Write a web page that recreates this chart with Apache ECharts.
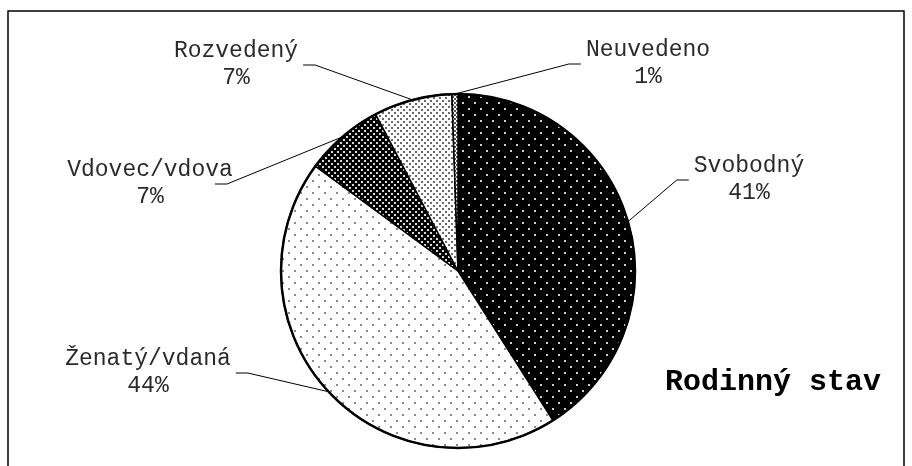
<!DOCTYPE html>
<html>
<head>
<meta charset="utf-8">
<script src="https://cdn.jsdelivr.net/npm/echarts@6/dist/echarts.min.js"></script>
<style>
html,body{margin:0;padding:0;background:#fff;}
#c{width:912px;height:466px;}
</style>
</head>
<body>
<div id="c"></div>
<script>
// ---- data ----
var categories = ['Svobodný', 'Ženatý/vdaná', 'Vdovec/vdova', 'Rozvedený', 'Neuvedeno'];
var shares = [41.0, 44.1, 7.2, 7.15, 0.55];
var chartTitle = 'Rodinný stav';

// ---- patterns ----
function dotPattern(size, bg, fg, dot, pts) {
  var c = document.createElement('canvas');
  c.width = size; c.height = size;
  var g = c.getContext('2d');
  g.fillStyle = bg; g.fillRect(0, 0, size, size);
  g.fillStyle = fg;
  pts.forEach(function (p) { g.fillRect(p[0], p[1], dot, dot); });
  return { image: c, repeat: 'repeat' };
}
var patterns = [
  dotPattern(12, '#000', '#d0d0d0', 2, [[0, 0], [6, 6]]),
  dotPattern(12, '#fff', '#8a8a8a', 2, [[0, 0], [6, 6]]),
  dotPattern(6, '#000', '#d8d8d8', 2, [[1, 1], [4, 4]]),
  dotPattern(6, '#fff', '#6a6a6a', 2, [[1, 1], [4, 4]]),
  dotPattern(4, '#fff', '#555', 2, [[0, 0], [2, 2]])
];

// label placement (layout only); lineEnd = where the leader line meets the label
var labelPlaces = [
  { x: 749, y: 179, side: 'left' },
  { x: 148, y: 372, side: 'right' },
  { x: 150, y: 183, side: 'right', lineEnd: 215 },
  { x: 236, y: 64, side: 'right' },
  { x: 648, y: 63, side: 'left' }
];

var font = "'Courier New', 'Liberation Mono', monospace";
var chart = echarts.init(document.getElementById('c'), null, { renderer: 'canvas' });

var data = categories.map(function (n, i) {
  return { name: n, value: shares[i], itemStyle: { color: patterns[i] } };
});

chart.setOption({
  backgroundColor: '#fff',
  animation: false,
  graphic: [
    { type: 'rect', shape: { x: 8, y: 11, width: 896, height: 470 },
      style: { fill: 'none', stroke: '#000', lineWidth: 1.5 }, z: 0 },
    { type: 'text', x: 773, y: 382,
      style: { text: chartTitle, font: "bold 30px " + font, fill: '#000',
               textAlign: 'center', textVerticalAlign: 'middle' }, z: 10 }
  ],
  series: [
    {
      type: 'pie',
      center: [458, 271],
      radius: 177,
      startAngle: 90,
      clockwise: true,
      avoidLabelOverlap: false,
      data: data,
      itemStyle: { borderColor: '#000', borderWidth: 1.5 },
      label: {
        show: true, position: 'outside',
        fontFamily: font, fontSize: 23, lineHeight: 27, color: '#2a2a2a',
        formatter: function (p) { return p.name + '\n' + Math.round(p.percent) + '%'; }
      },
      labelLine: { show: true, length: 10, length2: 10, smooth: false,
                   lineStyle: { color: '#000', width: 1 } },
      labelLayout: function (params) {
        var pl = labelPlaces[params.dataIndex];
        var w = params.labelRect.width;
        var p0 = params.labelLinePoints ? params.labelLinePoints[0] : [0, 0];
        var ly = pl.y + 1;
        var ex, bx;
        if (pl.side === 'left') { ex = pl.x - w / 2 - 5; bx = ex - 12; }
        else { ex = pl.lineEnd != null ? pl.lineEnd : pl.x + w / 2 + 5; bx = ex + 12; }
        return {
          x: pl.x, y: pl.y, align: 'center', verticalAlign: 'middle',
          labelLinePoints: [p0, [bx, ly], [ex, ly]]
        };
      },
      emphasis: { disabled: true },
      z: 2
    },
    {
      type: 'pie',
      center: [458, 271],
      radius: 177,
      silent: true,
      data: [{ value: 1, name: 'outline' }],
      itemStyle: { color: 'rgba(0,0,0,0)', borderColor: '#000', borderWidth: 2.5 },
      label: { show: false }, labelLine: { show: false },
      emphasis: { disabled: true },
      z: 3
    }
  ]
});
</script>
</body>
</html>
